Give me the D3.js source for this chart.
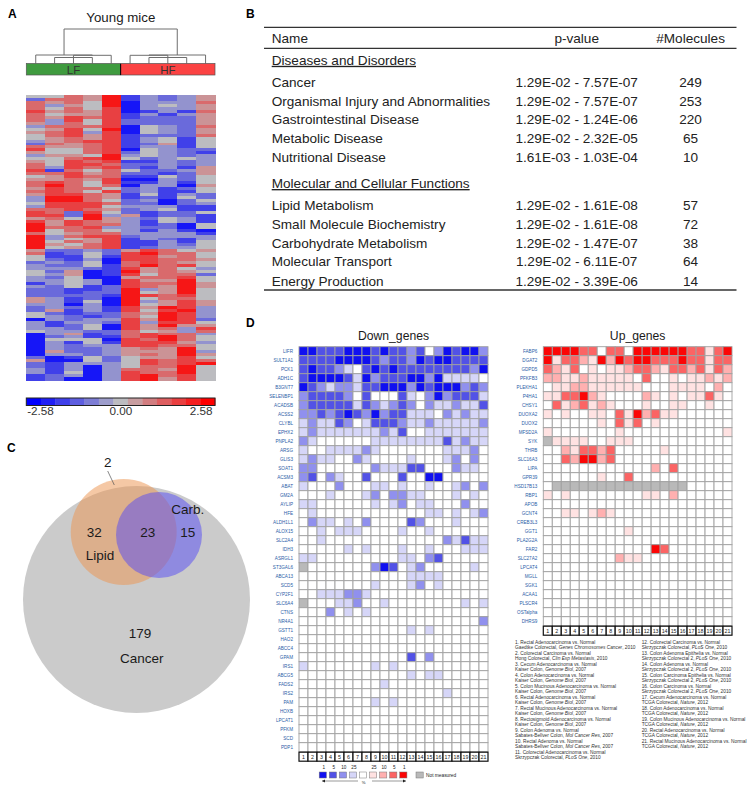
<!DOCTYPE html>
<html>
<head>
<meta charset="utf-8">
<script src="https://cdnjs.cloudflare.com/ajax/libs/d3/7.9.0/d3.min.js"></script>
<style>
html, body { margin: 0; padding: 0; background: #fff; }
svg { display: block; }
text { font-family: "Liberation Sans", Arial, sans-serif; fill: #1a1a1a; }
</style>
</head>
<body>
<svg id="fig" width="754" height="791"></svg>
<script>
// panel A: 0 = strongest blue, 4 = neutral, 8 = strongest red
const heatSamples = ['LF1', 'LF2', 'LF3', 'LF4', 'LF5', 'HF1', 'HF2', 'HF3', 'HF4', 'HF5'];
const heatRows = [
  '4465813235','2665813235','6564803336','6354803435','6464703335','7565701316','6455713135','6576712225','6374722225','5364722225',
  '3666704326','4574804325','5673704325','4675712226','4565713414','3567713414','2656712514','6556713314','7446704322','5446724321',
  '3554834323','4467842343','5476711323','6477622323','6376721315','7164642235','6675622125','4576611424','5565700324','6764711314',
  '6864603305','5766423124','6764723114','5776514132','3886512142','3886423024','4777622023','3777433311','6676523411','7627421224',
  '7728351221','5648532431','7576531431','8576631204','8667332204','8466431310','6456633331','8367723333','8345713213','8465711314',
  '8546711324','8456712334','5223257645','6124278664','4114177564','4213077665','2324067654','3224168674','3332175643','4250185654',
  '4350174662','3240056674','3343075584','1343076685','3241276585','2211283584','2212284584','2222187674','5312084664','5314083575',
  '3303084575','2323175873','2513174783','4212265873','4321264873','0323375872','3133273774','3124075855','3324075637','4332264536',
  '0351267663','0231167864','0444076864','0314177753','0323377664','0322356584','0522355583','0332356585','2014245574','5004247676',
  '2133347678','2130346684','3130366584','3140376684','1230378674','1200378574'
];
const heatTicks = [-2.58, 0, 2.58];
const legendSteps = d3.range(13);
// dendrogram merges: [left node, right node, bar height]; ids below 10 are leaves
const treeMerges = [
  [1, 3, 57.5], [2, 10, 57.5], [4, 11, 55.3], [0, 12, 55],
  [6, 8, 57.5], [7, 14, 57.5], [5, 15, 55.3], [16, 9, 55],
  [13, 17, 29]
];
const groups = [['LF', 0, 5, '#3f9b3f'], ['HF', 5, 10, '#fb4343']];

// panel B
const tableHeader = ['Name', 'p-value', '#Molecules'];
const sectionOne = 'Diseases and Disorders';
const sectionTwo = 'Molecular and Cellular Functions';
const diseaseRows = [
  ['Cancer', '1.29E-02 - 7.57E-07', '249'],
  ['Organismal Injury and Abnormalities', '1.29E-02 - 7.57E-07', '253'],
  ['Gastrointestinal Disease', '1.29E-02 - 1.24E-06', '220'],
  ['Metabolic Disease', '1.29E-02 - 2.32E-05', '65'],
  ['Nutritional Disease', '1.61E-03 - 1.03E-04', '10']
];
const functionRows = [
  ['Lipid Metabolism', '1.29E-02 - 1.61E-08', '57'],
  ['Small Molecule Biochemistry', '1.29E-02 - 1.61E-08', '72'],
  ['Carbohydrate Metabolism', '1.29E-02 - 1.47E-07', '38'],
  ['Molecular Transport', '1.29E-02 - 6.11E-07', '64'],
  ['Energy Production', '1.29E-02 - 3.39E-06', '14']
];

// panel D, levels: 0 none, 1 = 25%, 2 = 10%, 3 = 5%, 4 = 1%, g = not measured
const studies = d3.range(1, 22);
const downGenes = ['LIFR','SULT1A1','PCK1','ADH1C','B3GNT7','SELENBP1','ACADSB','ACSS2','CLYBL','EPHX2','PNPLA2','ARSG','GLIS3','SOAT1','ACSM3','ABAT','GM2A','AYLIP','HFE','ALDH1L1','ALOX15','SLC2A4','IDH3','ASRGL1','ST3GAL6','ABCA13','SCD5','CYP2F1','SLC6A4','CTNS','NR4A1','GSTT1','HAO2','ABCC4','GPAM','IRS1','ABCG5','FADS2','IRS2','PAM','HOXB','LPCAT1','PFKM','SCD','PDP1'];
const downLevels = [
  '443334443433230243442','333344443233243443333','343321034343333333324','344443142333442411110','432122133444243444232',
  '233332030003102423331','233333132123202112113','223234324233111021211','121132013332112111112','121111111213001111111',
  '210000001111111131211','100111121000000011120','121100210000100012020','220000002111330002110','230210030003004400000',
  '100020001101001001202','000100012022110001010','110000001012011000200','010000000000001101012','021101020000320001000',
  '001011100001001000000','001000000000000021311','000001010001001000111','110000000001102300000','g00000002430120000010',
  '000000000000111100000','000000001000120100000','001112210000000000000','g00011200100000000101','000201010000000000000',
  '000000000000000000002','000000000000101000000','000000000000000000000','000000000000000000000','000000000000302000000',
  '100000001010000000000','000000000000101100000','000000000100000000000','000000000000000010000','000000001010000000000',
  '000000000000000000000','000000000000000000000','000000000000000000000','000000000000000000000','000000000000000000000'
];
const upGenes = ['FABP6','DGAT2','GDPD5','PFKFB3','PLEKHA1','P4HA1','CHSY1','DUOXA2','DUOX2','MFSD2A','SYK','THRB','SLC16A3','LIPA','GPR39','HSD17B13','RBP1','APOB','GCNT4','CREB3L3','GGT1','PLA2G2A','FAR2','SLC27A2','LPCAT4','MGLL','SGK1','ACAA1','PLSCR4','OSTalpha','DHRS9'];
const upLevels = [
  '444433033044444433134','413321424344333433133','321301011233213323132','221121111103001011212','011221111110001111020',
  '113342100002101011310','031231210001001100100','101001103142311000000','000000103130100000000','100000001000000000001',
  'g11110011100000000000','002133230000010000000','003244230000000000000','000000000000203000000','000000100300000000000',
  '0ggggggggggggggg00000','101000000001102000000','000000000000000000000','001101210000000000000','000000000000000000000',
  '000000000100000000000','000000000000000000000','000000000000430000000','000000002110000000000','000000000000000000000',
  '000000000000000000000','000000000000000000000','000000000000000000000','000000000000000000000','000000000000000000000',
  '000000000000000000000'
];
const blues = ['#ffffff', '#d6d6f8', '#9090ee', '#5252e6', '#1010f0'];
const reds = ['#ffffff', '#ffe2e2', '#ffb0b0', '#fb6464', '#fb0606'];
const notMeasured = '#b9b9b9';
const keyLabels = ['1', '5', '10', '25', '', '25', '10', '5', '1'];
const keyColors = ['#1010f0', '#5252e6', '#9090ee', '#d6d6f8', '#ffffff', '#ffe2e2', '#ffb0b0', '#fb6464', '#fb0606'];
const studyNotes = [
  ['1. Rectal Adenocarcinoma vs. Normal', 'Gaedtke Colorectal, ', 'Genes Chromosomes Cancer', ', 2010'],
  ['2. Colorectal Carcinoma vs. Normal', 'Hong Colorectal, ', 'Clin Exp Metastasis', ', 2010'],
  ['3. Cecum Adenocarcinoma vs. Normal', 'Kaiser Colon, ', 'Genome Biol', ', 2007'],
  ['4. Colon Adenocarcinoma vs. Normal', 'Kaiser Colon, ', 'Genome Biol', ', 2007'],
  ['5. Colon Mucinous Adenocarcinoma vs. Normal', 'Kaiser Colon, ', 'Genome Biol', ', 2007'],
  ['6. Rectal Adenocarcinoma vs. Normal', 'Kaiser Colon, ', 'Genome Biol', ', 2007'],
  ['7. Rectal Mucinous Adenocarcinoma vs. Normal', 'Kaiser Colon, ', 'Genome Biol', ', 2007'],
  ['8. Rectosigmoid Adenocarcinoma vs. Normal', 'Kaiser Colon, ', 'Genome Biol', ', 2007'],
  ['9. Colon Adenoma vs. Normal', 'Sabates-Bellver Colon, ', 'Mol Cancer Res', ', 2007'],
  ['10. Rectal Adenoma vs. Normal', 'Sabates-Bellver Colon, ', 'Mol Cancer Res', ', 2007'],
  ['11. Colorectal Adenocarcinoma vs. Normal', 'Skrzypczak Colorectal, ', 'PLoS One', ', 2010'],
  ['12. Colorectal Carcinoma vs. Normal', 'Skrzypczak Colorectal, ', 'PLoS One', ', 2010'],
  ['13. Colon Adenoma Epithelia vs. Normal', 'Skrzypczak Colorectal 2, ', 'PLoS One', ', 2010'],
  ['14. Colon Adenoma vs. Normal', 'Skrzypczak Colorectal 2, ', 'PLoS One', ', 2010'],
  ['15. Colon Carcinoma Epithelia vs. Normal', 'Skrzypczak Colorectal 2, ', 'PLoS One', ', 2010'],
  ['16. Colon Carcinoma vs. Normal', 'Skrzypczak Colorectal 2, ', 'PLoS One', ', 2010'],
  ['17. Cecum Adenocarcinoma vs. Normal', 'TCGA Colorectal, ', 'Nature', ', 2012'],
  ['18. Colon Adenocarcinoma vs. Normal', 'TCGA Colorectal, ', 'Nature', ', 2012'],
  ['19. Colon Mucinous Adenocarcinoma vs. Normal', 'TCGA Colorectal, ', 'Nature', ', 2012'],
  ['20. Rectal Adenocarcinoma vs. Normal', 'TCGA Colorectal, ', 'Nature', ', 2012'],
  ['21. Rectal Mucinous Adenocarcinoma vs. Normal', 'TCGA Colorectal, ', 'Nature', ', 2012']
];

// panel C, radii from the drawn circles
const vennSets = [
  { name: 'Cancer', r: 113.5, cx: 136.5, cy: 599.5, fill: '#cbcbcb', alpha: 1 },
  { name: 'Lipid', r: 53, cx: 123.7, cy: 532, fill: '#ec9653', alpha: 0.52 },
  { name: 'Carb.', r: 43, cx: 159, cy: 535, fill: '#544af6', alpha: 0.5 }
];
const vennLabels = [
  ['2', 107.7, 467], ['32', 94.3, 537], ['Lipid', 100, 560], ['23', 147.7, 537], ['15', 187.7, 537],
  ['Carb.', 187.7, 514], ['179', 140, 638], ['Cancer', 141.7, 663]
];

const svg = d3.select('#fig');
const defs = svg.append('defs');
defs.append('filter').attr('id', 'soft').attr('filterUnits', 'userSpaceOnUse')
  .attr('x', 26).attr('y', 95).attr('width', 190).attr('height', 286)
  .append('feGaussianBlur').attr('stdDeviation', '0.7 0.75');

function label(g, str, x, y, size, anchor = 'start', weight = 'normal') {
  return g.append('text').attr('x', x).attr('y', y).attr('font-size', size)
    .attr('text-anchor', anchor).attr('font-weight', weight).text(str);
}

[['A', 8, 18], ['B', 246, 18], ['C', 7, 452], ['D', 246, 327]].forEach(d => label(svg, d[0], d[1], d[2], 12, 'start', 'bold').style('fill', '#000'));

// ---- panel A
function drawHeatmap() {
  const g = svg.append('g');
  const x = d3.scaleBand().domain(heatSamples).range([26.3, 215]);
  const y = d3.scaleBand().domain(d3.range(heatRows.length)).range([95, 380]);
  const color = d3.scaleLinear().domain([-2.58, 0, 2.58]).range(['#0000ff', '#bcbcc0', '#ff0000']);
  // the strongest cells in the picture stay just short of the key's ends
  const cells = heatRows.flatMap((row, i) => heatSamples.map((s, j) => ({ i, s, v: (+row[j] - 4) / 4 * 2.25 })));
  g.append('g').attr('filter', 'url(#soft)').selectAll('rect').data(cells).join('rect')
    .attr('shape-rendering', 'crispEdges')
    .attr('x', d => x(d.s)).attr('y', d => y(d.i))
    .attr('width', x.bandwidth() + 0.5).attr('height', y.bandwidth() + 0.5)
    .attr('fill', d => color(d.v));

  label(g, 'Young mice', x.range()[0] + 94.5, 21.5, 13.3, 'middle');

  // dendrogram
  const nodes = heatSamples.map(s => ({ x: x(s) + x.bandwidth() / 2, y: 63.5 }));
  const seg = [];
  treeMerges.forEach(([a, b, h]) => {
    const l = nodes[a], r = nodes[b];
    seg.push([[l.x, l.y], [l.x, h], [r.x, h], [r.x, r.y]]);
    nodes.push({ x: (l.x + r.x) / 2, y: h });
  });
  g.selectAll('path.tree').data(seg).join('path').attr('class', 'tree')
    .attr('d', d3.line()).attr('fill', 'none').attr('stroke', '#6e6e6e').attr('stroke-width', 1);

  g.selectAll('rect.group').data(groups).join('rect').attr('class', 'group')
    .attr('x', d => x(heatSamples[d[1]])).attr('y', 63.5)
    .attr('width', d => x.bandwidth() * (d[2] - d[1])).attr('height', 11.5)
    .attr('fill', d => d[3]).attr('stroke', '#555').attr('stroke-width', 0.7);
  g.selectAll('text.group').data(groups).join('text').attr('class', 'group')
    .attr('x', d => x(heatSamples[d[1]]) + x.bandwidth() * 2.5).attr('y', 74.3)
    .attr('text-anchor', 'middle').attr('font-size', 11.5).style('fill', '#333').text(d => d[0]);
  g.append('line').attr('x1', x('HF1')).attr('x2', x('HF1')).attr('y1', 64).attr('y2', 75).attr('stroke', '#000').attr('stroke-width', 1);

  // colour key
  const kx = d3.scaleBand().domain(legendSteps).range([26.3, 215]);
  const kv = d3.scaleLinear().domain([0, 12]).range([-2.58, 2.58]);
  g.selectAll('rect.key').data(legendSteps).join('rect').attr('class', 'key')
    .attr('x', d => kx(d)).attr('y', 398).attr('width', kx.bandwidth() + 0.4).attr('height', 7.5)
    .attr('fill', d => color(kv(d)));
  g.append('rect').attr('x', 26.3).attr('y', 398).attr('width', 188.7).attr('height', 7.5)
    .attr('fill', 'none').attr('stroke', '#222').attr('stroke-width', 1);
  const kt = d3.scaleLinear().domain([-2.58, 2.58]).range([40, 200.7]);
  const kAxis = g.append('g').attr('transform', 'translate(0,405)')
    .call(d3.axisBottom(kt).tickValues(heatTicks).tickSize(0).tickFormat(d => d3.format('.2f')(d).replace('−', '-')));
  kAxis.select('.domain').remove();
  kAxis.selectAll('text').attr('font-size', 11.7).attr('font-family', '"Liberation Sans", Arial, sans-serif').attr('dy', '0.71em').attr('y', 1.5).style('fill', '#333');
}

// ---- panel B
function drawTable() {
  const g = svg.append('g');
  const cols = [271.7, 576.7, 690.6];
  const rule = (y, w) => g.append('line').attr('x1', 264).attr('x2', 736.5).attr('y1', y).attr('y2', y).attr('stroke', '#333').attr('stroke-width', w);
  rule(27.3, 1.2); rule(48.3, 1.2); rule(290, 1.3);
  const fs = 13.6;
  const row = (d, y) => {
    label(g, d[0], cols[0], y, fs).style('fill', '#222');
    label(g, d[1], cols[1], y, fs, 'middle').style('fill', '#222');
    label(g, d[2], cols[2], y, fs, 'middle').style('fill', '#222');
  };
  row(tableHeader, 42.5);
  label(g, sectionOne, cols[0], 64.8, fs).style('text-decoration', 'underline').style('fill', '#222');
  diseaseRows.forEach((d, i) => row(d, [86.8, 105.5, 124.2, 143, 162][i]));
  label(g, sectionTwo, cols[0], 188, fs).style('text-decoration', 'underline').style('fill', '#222');
  functionRows.forEach((d, i) => row(d, [210, 228.8, 247.6, 266.4, 286][i]));
}

// ---- panel C
function drawVenn() {
  const g = svg.append('g');
  g.selectAll('circle').data(vennSets).join('circle')
    .attr('cx', d => d.cx).attr('cy', d => d.cy).attr('r', d => d.r)
    .attr('fill', d => d.fill).attr('fill-opacity', d => d.alpha);
  g.append('line').attr('x1', 107.7).attr('y1', 471).attr('x2', 114.3).attr('y2', 485).attr('stroke', '#555').attr('stroke-width', 0.7);
  vennLabels.forEach(d => label(g, d[0], d[1], d[2], 13.5, 'middle'));
}

// ---- panel D
function drawEnrichment(title, genes, levels, palette, x0, x1) {
  const g = svg.append('g');
  const x = d3.scaleBand().domain(studies).range([x0, x1]);
  const y = d3.scaleBand().domain(genes).range([346.7, 346.7 + genes.length * 9]);
  const bottom = y.range()[1];
  label(g, title, (x0 + x1) / 2, 340, 12.2, 'middle');

  const cells = genes.flatMap((gene, i) => studies.map((s, j) => ({ gene, s, lvl: levels[i][j] })));
  g.selectAll('rect').data(cells).join('rect')
    .attr('x', d => x(d.s)).attr('y', d => y(d.gene))
    .attr('width', x.bandwidth()).attr('height', y.bandwidth())
    .attr('fill', d => d.lvl === 'g' ? notMeasured : palette[+d.lvl])
    .attr('stroke', '#a0a0a0').attr('stroke-width', 0.9);

  const yAxis = g.append('g').attr('transform', `translate(${x0 - 6},0)`)
    .call(d3.axisLeft(y).tickSize(0).tickPadding(0));
  yAxis.select('.domain').remove();
  yAxis.selectAll('text').attr('font-size', 4.6).attr('font-family', '"Liberation Sans", Arial, sans-serif').style('fill', '#2b5ea8');

  // study number strip
  const strip = g.append('g').attr('transform', `translate(0,${bottom + 0.5})`);
  strip.selectAll('rect').data(studies).join('rect')
    .attr('x', d => x(d)).attr('y', 0).attr('width', x.bandwidth()).attr('height', 9)
    .attr('fill', '#fff').attr('stroke', '#111').attr('stroke-width', 1.2);
  strip.selectAll('text').data(studies).join('text')
    .attr('x', d => x(d) + x.bandwidth() / 2).attr('y', 6.7)
    .attr('text-anchor', 'middle').attr('font-size', 5.3).text(d => d);
}

function drawKey() {
  const g = svg.append('g');
  const x = d3.scaleBand().domain(d3.range(keyColors.length)).range([318.4, 409]);
  g.selectAll('rect').data(keyColors).join('rect')
    .attr('x', (d, i) => x(i) + 0.8).attr('y', 772).attr('width', 7.2).attr('height', 6)
    .attr('fill', d => d).attr('stroke', '#777').attr('stroke-width', 0.5);
  keyLabels.forEach((d, i) => label(g, d, x(i) + x.bandwidth() / 2 + 0.3, 769, 4.6, 'middle'));
  g.append('rect').attr('x', 416).attr('y', 772).attr('width', 7.2).attr('height', 6)
    .attr('fill', notMeasured).attr('stroke', '#777').attr('stroke-width', 0.5);
  label(g, 'Not measured', 426, 776.8, 4.8);
  label(g, '%', 363.5, 783.5, 4.2, 'middle');
  [[358, 322], [372, 406]].forEach(([a, b]) => {
    g.append('line').attr('x1', a).attr('x2', b).attr('y1', 781).attr('y2', 781).attr('stroke', '#333').attr('stroke-width', 0.5);
    const dir = b > a ? -1 : 1;
    g.append('path').attr('d', d3.line()([[b, 781], [b + dir * 3, 779.6], [b + dir * 3, 782.4]])).attr('fill', '#222');
  });
}

function drawNotes() {
  const g = svg.append('g');
  studyNotes.forEach((d, i) => {
    const left = i < 11;
    const n = left ? i : i - 11;
    const xp = left ? 515 : 641.7;
    label(g, d[0], xp, 643.6 + n * 11, 4.8).style('fill', '#333');
    const t = label(g, '', xp, 649.1 + n * 11, 4.8).style('fill', '#333');
    t.append('tspan').text(d[1]);
    t.append('tspan').attr('font-style', 'italic').text(d[2]);
    t.append('tspan').text(d[3]);
  });
}

drawHeatmap();
drawTable();
drawVenn();
drawEnrichment('Down_genes', downGenes, downLevels, blues, 299, 488);
drawEnrichment('Up_genes', upGenes, upLevels, reds, 543.3, 732);
drawKey();
drawNotes();
</script>
</body>
</html>
